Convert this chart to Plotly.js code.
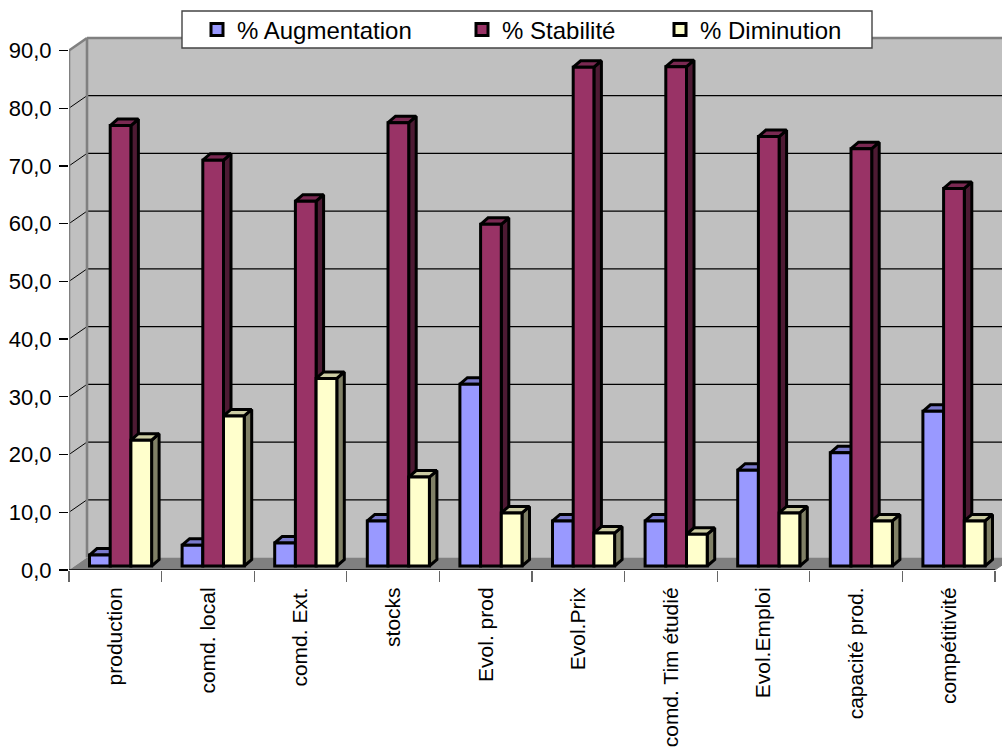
<!DOCTYPE html>
<html><head><meta charset="utf-8">
<script src="https://cdn.plot.ly/plotly-3.0.1.min.js"></script>
<style>html,body{margin:0;padding:0;background:#fff;overflow:hidden}#c{width:1002px;height:747px}</style>
</head><body><div id="c"></div>
<script>
const categories = ["production","comd. local","comd. Ext.","stocks","Evol. prod","Evol.Prix","comd. Tim étudié","Evol.Emploi","capacité prod.","compétitivité"];
const augmentation = [1.9,3.6,4.0,7.8,31.5,7.8,7.8,16.6,19.6,26.8];
const stabilite = [76.3,70.3,63.2,76.8,59.2,86.4,86.5,74.4,72.3,65.4];
const diminution = [21.8,26.0,32.5,15.4,9.2,5.7,5.5,9.2,7.8,7.8];
const yTicks = [0,10,20,30,40,50,60,70,80,90];

const W=1002,H=747,L=69,B=176.5;
const pxX=92.6, pxY=520/90;
const plotW=W-L, plotH=H-B;
const xMin=-0.5, xMax=xMin+plotW/pxX, yMax=plotH/pxY;
const wallDX=18/pxX, wallDY=12.5/pxY;
const barDX=7.5/pxX, barDY=6.5/pxY;
const lift=4/pxY;
const barW=20.7/pxX;
const barStart=-25.8/pxX;
const series=[
 {name:"% Augmentation",vals:augmentation,front:"#9999FF",side:"#4D4D80",top:"#7A7ACC",legend:"legend",offs:0},
 {name:"% Stabilité",vals:stabilite,front:"#993366",side:"#4D1A33",top:"#7A2952",legend:"legend2",offs:1},
 {name:"% Diminution",vals:diminution,front:"#FFFFCC",side:"#808066",top:"#CCCCA3",legend:"legend3",offs:2}
];
const traces=[];
series.forEach(s=>{
  const off=barStart+s.offs*barW;
  const sx=[],sy=[],tx=[],ty=[];
  s.vals.forEach((v,i)=>{
    const xl=i+off,xr=xl+barW,top=v+lift;
    sx.push(xr,xr+barDX,xr+barDX,xr,xr,null);
    sy.push(lift,lift+barDY,top+barDY,top,lift,null);
    tx.push(xl,xl+barDX,xr+barDX,xr,xl,null);
    ty.push(top,top+barDY,top+barDY,top,top,null);
  });
  const face=(x,y,c)=>({type:"scatter",mode:"lines",x,y,fill:"toself",fillcolor:c,line:{color:"#000",width:3},showlegend:false,hoverinfo:"skip",xaxis:"x",yaxis:"y"});
  traces.push(face(sx,sy,s.side),face(tx,ty,s.top));
});
series.forEach(s=>{
  traces.push({type:"bar",name:s.name,x:categories,y:s.vals,base:lift,width:barW,offset:barStart+s.offs*barW,
    marker:{color:s.front,line:{color:"#000",width:3}},xaxis:"x2",yaxis:"y2",legend:s.legend});
});

const xr=xMin+926/pxX; // end of the front axis
const shapes=[];
const P=(xs,ys)=>xs.map((x,i)=>(i?"L":"M")+x+","+ys[i]).join("")+"Z";
const farX=xMax+1;
const topB=90+wallDY;
// back wall
shapes.push({type:"rect",layer:"below",x0:xMin+wallDX,x1:farX,y0:wallDY,y1:topB,fillcolor:"#C0C0C0",line:{width:0}});
// side wall
shapes.push({type:"path",layer:"below",path:P([xMin,xMin+wallDX,xMin+wallDX,xMin],[0,wallDY,topB,90]),fillcolor:"#C0C0C0",line:{width:0}});
// floor
shapes.push({type:"path",layer:"below",path:P([xMin,xMin+wallDX,farX,xr+wallDX,xr],[0,wallDY,wallDY,wallDY,0]),fillcolor:"#808080",line:{width:0}});
// grid
yTicks.slice(1,-1).forEach(t=>{
  shapes.push({type:"line",layer:"below",x0:xMin+wallDX,x1:farX,y0:t+wallDY,y1:t+wallDY,line:{color:"#000",width:1.2}});
  shapes.push({type:"line",layer:"below",x0:xMin,x1:xMin+wallDX,y0:t,y1:t+wallDY,line:{color:"#000",width:1}});
});
// wall edges
const edge={color:"#808080",width:2.6};
shapes.push({type:"line",layer:"below",x0:xMin+wallDX,x1:farX,y0:topB,y1:topB,line:edge});
shapes.push({type:"line",layer:"below",x0:xMin+wallDX,x1:xMin+wallDX,y0:wallDY,y1:topB,line:edge});
shapes.push({type:"line",layer:"below",x0:xMin,x1:xMin+wallDX,y0:90,y1:topB,line:edge});
shapes.push({type:"line",layer:"below",x0:xMin,x1:xMin,y0:0,y1:90,line:edge});
// front floor edge
shapes.push({type:"line",layer:"below",x0:xMin,x1:xr,y0:0,y1:0,line:{color:"#000",width:1.4}});
shapes.push({type:"line",layer:"below",x0:xr,x1:xr+wallDX,y0:0,y1:wallDY,line:{color:"#808080",width:1}});
// legend box
const ppx=x=>(x-L)/plotW, ppy=y=>(plotH-y)/plotH;
shapes.push({type:"rect",layer:"above",xref:"paper",yref:"paper",x0:ppx(182),x1:ppx(872),y0:ppy(48),y1:ppy(11),fillcolor:"#fff",line:{color:"#444",width:1.4}});

const legendFont={family:"Liberation Sans",size:24,color:"#000"};
const leg=x=>({x:ppx(x),y:ppy(30),xanchor:"left",yanchor:"middle",bgcolor:"rgba(0,0,0,0)",borderwidth:0,font:legendFont,orientation:"v",itemclick:false});

const layout={
  width:W,height:H,margin:{l:L,r:0,t:0,b:B,pad:0,autoexpand:false},
  paper_bgcolor:"#fff",plot_bgcolor:"rgba(0,0,0,0)",
  separators:", ",
  barmode:"overlay",showlegend:true,
  font:{family:"Liberation Sans",size:20,color:"#000"},
  xaxis:{type:"linear",range:[xMin,xMax],tickmode:"array",
    tickvals:categories.map((c,i)=>i-0.5).concat([categories.length-0.5]),
    ticktext:categories.map(()=>"").concat([""]),
    ticks:"outside",ticklen:11,tickwidth:1.2,tickcolor:"#666",showgrid:false,zeroline:false,showline:false,fixedrange:true},
  yaxis:{type:"linear",range:[0,yMax],tickmode:"array",tickvals:yTicks,tickformat:".1f",
    ticks:"outside",ticklen:9,tickwidth:1.2,tickcolor:"#000",showgrid:false,zeroline:false,showline:false,fixedrange:true,
    ticklabelstandoff:3,tickfont:{family:"Liberation Sans",size:22}},
  xaxis2:{type:"category",overlaying:"x",anchor:"y2",side:"bottom",range:[xMin,xMax],categoryorder:"array",categoryarray:categories,
    tickangle:-90,ticks:"outside",ticklen:8,tickcolor:"rgba(0,0,0,0)",showgrid:false,zeroline:false,showline:false,fixedrange:true,automargin:false,
    tickfont:{family:"Liberation Sans",size:21}},
  yaxis2:{type:"linear",overlaying:"y",anchor:"x2",side:"left",range:[0,yMax],showgrid:false,zeroline:false,showline:false,showticklabels:false,ticks:"",fixedrange:true},
  legend:leg(197),legend2:leg(462),legend3:leg(660),
  shapes
};
Plotly.newPlot("c",traces,layout,{staticPlot:true,displayModeBar:false});
</script></body></html>
